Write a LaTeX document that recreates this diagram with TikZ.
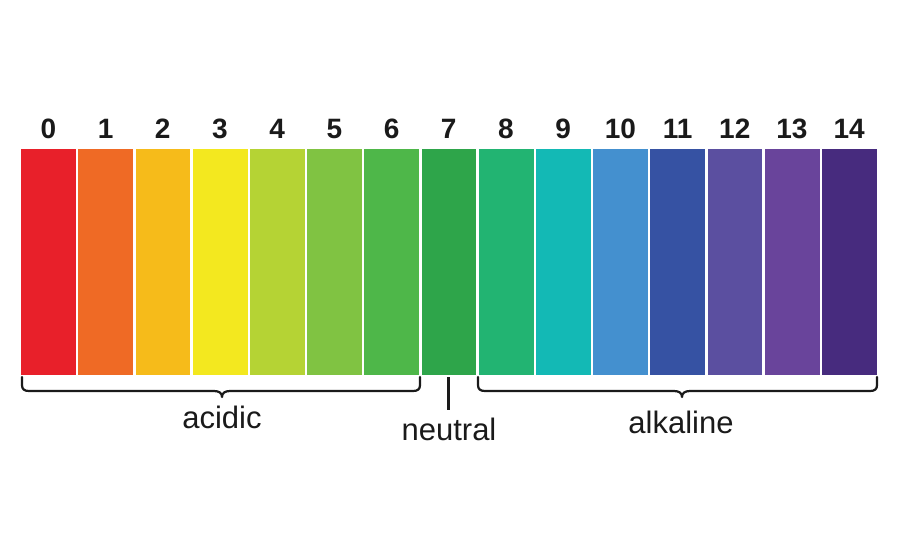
\documentclass[tikz,border=0pt]{standalone}
\usepackage{fontspec}
\setmainfont{Liberation Sans}
\definecolor{c0}{HTML}{E8202A}
\definecolor{c1}{HTML}{EF6A25}
\definecolor{c2}{HTML}{F6BB1A}
\definecolor{c3}{HTML}{F3E81F}
\definecolor{c4}{HTML}{B5D334}
\definecolor{c5}{HTML}{80C342}
\definecolor{c6}{HTML}{4EB749}
\definecolor{c7}{HTML}{2EA54A}
\definecolor{c8}{HTML}{22B472}
\definecolor{c9}{HTML}{13B9B5}
\definecolor{c10}{HTML}{4490CF}
\definecolor{c11}{HTML}{3652A3}
\definecolor{c12}{HTML}{5B4FA0}
\definecolor{c13}{HTML}{69449B}
\definecolor{c14}{HTML}{472B7E}
\definecolor{ink}{HTML}{1A1A1A}
\tikzset{
  phbar/.style={draw=none, inner sep=0pt, minimum width=54.7pt, minimum height=226pt, anchor=north west},
  phnum/.style={anchor=base, inner sep=0pt, text=ink, font=\fontsize{28}{30}\selectfont\bfseries},
  phlabel/.style={anchor=base, inner sep=0pt, text=ink, font=\fontsize{31}{34}\selectfont},
  brace/.style={draw=ink, line width=2.2pt, line cap=round, line join=round}
}
\begin{document}
\begin{tikzpicture}[x=1pt,y=-1pt]
\useasboundingbox[fill=white] (0,0) rectangle (900,550);
\foreach \i in {0,...,14}{
  \node[phbar, fill=c\i] (b\i) at ({21+57.2*\i},149) {};
  \node[phnum] (n\i) at ({21+57.2*\i+27.35},138) {\i};
}
% acidic brace
\coordinate (aL) at (22,377);
\coordinate (aR) at (420,377);
\draw[brace] (aL) -- (22,385) .. controls (22,389) and (24,391) .. (29,391)
  -- (214,391) .. controls (219,391) and (222,393) .. (222,397)
  .. controls (222,393) and (225,391) .. (230,391)
  -- (413,391) .. controls (418,391) and (420,389) .. (420,385) -- (aR);
% neutral line
\coordinate (nT) at (448.5,377);
\coordinate (nB) at (448.5,410);
\draw[brace, line cap=butt] (nT) -- (nB);
% alkaline brace
\coordinate (kL) at (478,377);
\coordinate (kR) at (877,377);
\draw[brace] (kL) -- (478,385) .. controls (478,389) and (480,391) .. (485,391)
  -- (674,391) .. controls (679,391) and (682,393) .. (682,397)
  .. controls (682,393) and (685,391) .. (690,391)
  -- (870,391) .. controls (875,391) and (877,389) .. (877,385) -- (kR);
\node[phlabel] (acidic) at (222,428) {acidic};
\node[phlabel] (neutral) at (449,440) {neutral};
\node[phlabel] (alkaline) at (681,433) {alkaline};
\end{tikzpicture}
\end{document}
